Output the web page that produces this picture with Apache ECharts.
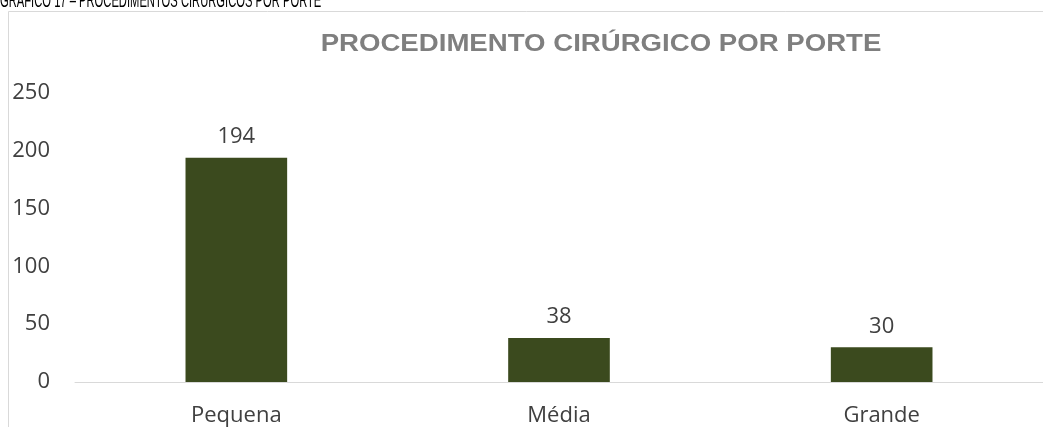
<!DOCTYPE html>
<html>
<head>
<meta charset="utf-8">
<script src="https://cdn.jsdelivr.net/npm/echarts@6/dist/echarts.min.js"></script>
<style>
html,body{margin:0;padding:0;background:#fff;}
#chart{width:1043px;height:427px;}
</style>
</head>
<body>
<div id="chart"></div>
<script>
const categories = ['Pequena', 'Média', 'Grande'];
const values = [194, 38, 30];
const yTicks = [0, 50, 100, 150, 200, 250];
const headerText = 'GRÁFICO 17 – PROCEDIMENTOS CIRÚRGICOS POR PORTE';
const chartTitle = 'PROCEDIMENTO CIRÚRGICO POR PORTE';

const chart = echarts.init(document.getElementById('chart'), null, {renderer: 'canvas'});
const labelFont = '"Open Sans", sans-serif';
chart.setOption({
  animation: false,
  backgroundColor: '#ffffff',
  graphic: [
    {
      type: 'rect', silent: true,
      shape: {x: 8.5, y: 11.5, width: 1100, height: 500},
      style: {fill: 'none', stroke: '#d9d9d9', lineWidth: 1}
    },
    {
      type: 'text', silent: true, x: 0, y: 1, scaleX: 0.56,
      style: {text: headerText, fontFamily: '"Liberation Sans", Arial, sans-serif', fontSize: 20,
        fill: '#000000', verticalAlign: 'middle', align: 'left'}
    },
    {
      type: 'text', silent: true, x: 601, y: 44, scaleX: 1.15,
      style: {text: chartTitle, fontFamily: '"Liberation Sans", Arial, sans-serif', fontSize: 24, fontWeight: 'bold',
        fill: '#7f7f7f', verticalAlign: 'middle', align: 'center'}
    }
  ],
  grid: {left: 75, top: 93, width: 980, height: 289, containLabel: false},
  xAxis: {
    type: 'category',
    data: categories,
    axisLine: {show: true, lineStyle: {color: '#d9d9d9', width: 1}},
    axisTick: {show: false},
    axisLabel: {color: '#404040', fontFamily: labelFont, fontSize: 22, margin: 23}
  },
  yAxis: {
    type: 'value',
    min: yTicks[0], max: yTicks[yTicks.length - 1], interval: 50,
    axisLine: {show: false},
    axisTick: {show: false},
    splitLine: {show: false},
    axisLabel: {color: '#404040', fontFamily: labelFont, fontSize: 22, margin: 25}
  },
  series: [{
    type: 'bar',
    data: values,
    barWidth: '31.5%',
    itemStyle: {color: '#3b4a1e'},
    label: {show: true, position: 'top', distance: 10, color: '#404040', fontFamily: labelFont, fontSize: 22}
  }]
});
</script>
</body>
</html>
